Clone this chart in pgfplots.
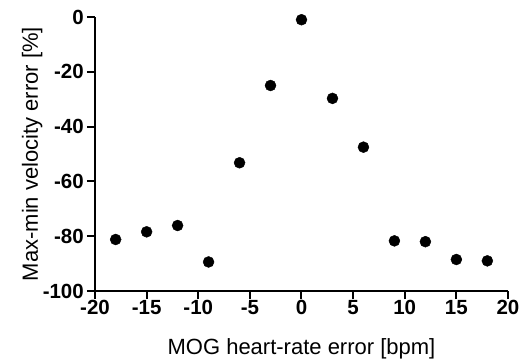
\documentclass[border=0pt]{standalone}
\usepackage{pgfplots}
\pgfplotsset{compat=1.18}
\usepackage{fontspec}
\setmainfont{Liberation Sans}
\begin{document}
\begin{tikzpicture}
\begin{axis}[
  scale only axis,
  width=413pt, height=274pt,
  xmin=-20, xmax=20, ymin=-100, ymax=0,
  axis x line*=bottom, axis y line*=left,
  axis line style={line width=2pt, -},
  xtick={-20,-15,...,20},
  ytick={-100,-80,...,0},
  tick align=outside,
  major tick length=8pt,
  tick style={line width=2pt, black},
  /pgf/number format/assume math mode=true,
  ticklabel style={font=\fontsize{20.5}{24}\selectfont\bfseries, inner sep=1pt},
  xticklabel style={yshift=0pt},
  yticklabel style={xshift=-2pt},
  xlabel={MOG heart-rate error [bpm]},
  ylabel={Max-min velocity error [\%]},
  label style={font=\fontsize{22}{26}\selectfont},
  xlabel style={at={(axis description cs:0.5,0)}, anchor=base, yshift=-63pt},
  ylabel style={at={(axis description cs:0,0.5)}, anchor=base, yshift=57pt},
  clip=false,
]
\addplot[only marks, mark=*, mark size=5.5pt, black] coordinates {
(-18,-81.2) (-15,-78.4) (-12,-76.1) (-9,-89.4) (-6,-53.2) (-3,-25.0)
(0,-1.0) (3,-29.7) (6,-47.5) (9,-81.7) (12,-82.0) (15,-88.5) (18,-89.0)
};
\end{axis}
\path[use as bounding box] (-95pt,-71pt) rectangle (427pt,291pt);
\end{tikzpicture}
\end{document}
